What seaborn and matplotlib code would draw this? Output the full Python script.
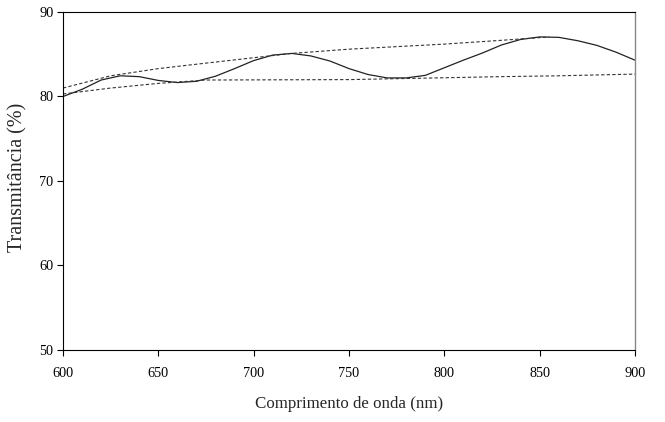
import matplotlib
matplotlib.use("Agg")
import matplotlib.pyplot as plt
import seaborn as sns
import pandas as pd

# Measured transmittance curve
wavelength = [600, 610, 620, 630, 640, 650, 660, 670, 680, 690, 700, 710, 720, 730, 740,
              750, 760, 770, 780, 790, 800, 810, 820, 830, 840, 850, 860, 870, 880, 890, 900]
transmittance = [80.0, 80.85, 81.95, 82.45, 82.35, 81.9, 81.65, 81.8, 82.4, 83.3, 84.25, 84.9,
                 85.1, 84.8, 84.2, 83.3, 82.6, 82.2, 82.2, 82.5, 83.4, 84.3, 85.15, 86.1, 86.75,
                 87.05, 87.0, 86.6, 86.05, 85.25, 84.3]

# Upper envelope (maxima)
upper_x = [600, 625, 650, 675, 720, 750, 800, 830, 855]
upper_y = [81.0, 82.45, 83.3, 83.95, 85.1, 85.6, 86.2, 86.65, 87.05]

# Lower envelope (minima)
lower_x = [600, 625, 650, 675, 750, 830, 860, 900]
lower_y = [80.3, 81.0, 81.55, 81.95, 82.0, 82.35, 82.45, 82.65]

x_ticks = [600, 650, 700, 750, 800, 850, 900]
y_ticks = [50, 60, 70, 80, 90]

sns.set_style("ticks")
plt.rcParams['font.family'] = ['Liberation Serif', 'DejaVu Serif']

fig = plt.figure(figsize=(6.65, 4.22), dpi=100)
ax = fig.add_axes([63/665, 1 - 350/422, (635 - 63)/665, (350 - 12)/422])

df = pd.DataFrame({"x": wavelength, "y": transmittance})
du = pd.DataFrame({"x": upper_x, "y": upper_y})
dl = pd.DataFrame({"x": lower_x, "y": lower_y})

sns.lineplot(data=df, x="x", y="y", ax=ax, color="#222222", linewidth=0.9)
sns.lineplot(data=du, x="x", y="y", ax=ax, color="#333333", linewidth=0.8)
sns.lineplot(data=dl, x="x", y="y", ax=ax, color="#333333", linewidth=0.8)
for ln in ax.lines[1:]:
    ln.set_linestyle((0, (3, 2)))

ax.set_xlim(600, 900)
ax.set_ylim(50, 90)
ax.set_xticks(x_ticks)
ax.set_yticks(y_ticks)
ax.tick_params(direction="out", length=4, width=0.8, labelsize=10.3, colors="black")
ax.tick_params(axis="x", pad=8)
ax.tick_params(axis="y", pad=3)

for s in ["left", "bottom", "top"]:
    ax.spines[s].set_color("black")
    ax.spines[s].set_linewidth(0.8)
ax.spines["right"].set_color("#888888")
ax.spines["right"].set_linewidth(1.0)

ax.set_xlabel("Comprimento de onda (nm)", fontsize=12.2, labelpad=12)
ax.set_ylabel("Transmitância (%)", fontsize=14.5)
ax.yaxis.set_label_coords(-0.062, 0.51)

fig.savefig("out.png", dpi=100)
